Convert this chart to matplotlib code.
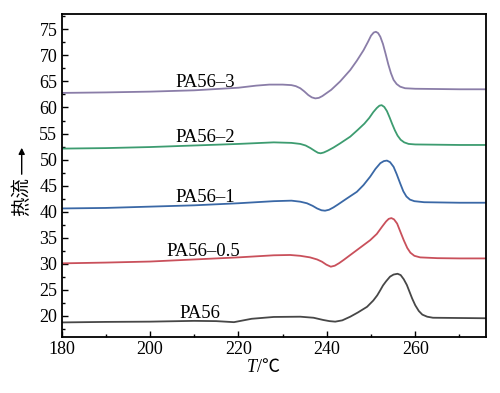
import matplotlib
matplotlib.use('Agg')
import matplotlib.pyplot as plt
from matplotlib.ticker import MultipleLocator

plt.rcParams['font.family'] = ['Liberation Serif', 'Noto Sans CJK SC', 'DejaVu Sans']

# 曲线数据 (温度 / 热流)
t_pa56 = [180, 190, 200, 210, 215, 219, 223, 228, 234, 237, 239.2, 240.6, 241.9, 243.5, 245.3,
          247, 249.1, 250.5, 251.4, 252.1, 252.7, 253.4, 254.3, 255.1, 256, 256.7, 257.4, 258.1,
          258.7, 259.3, 260.0, 260.8, 261.6, 262.7, 264, 270, 276]
v_pa56 = [18.7, 18.8, 18.85, 19.0, 18.95, 18.75, 19.4, 19.75, 19.8, 19.6, 19.17, 18.95, 18.85,
          19.1, 19.8, 20.6, 21.7, 22.9, 23.9, 24.9, 25.8, 26.6, 27.5, 27.9, 28.05, 27.8, 27.0,
          25.9, 24.6, 23.3, 22.0, 20.9, 20.2, 19.8, 19.6, 19.55, 19.5]

t_pa05 = [180, 190, 200, 210, 220, 228, 231.7, 234, 236.2, 237.8, 238.9, 239.9, 240.9, 241.8,
          242.8, 243.8, 246.8, 249.8, 251.3, 252.5, 253.4, 254.0, 254.6, 255.2, 255.9, 256.6,
          257.4, 258.2, 258.9, 259.8, 261.1, 265, 270, 276]
v_pa05 = [30.05, 30.2, 30.4, 30.8, 31.2, 31.6, 31.66, 31.5, 31.2, 30.8, 30.37, 29.8, 29.41, 29.6,
          30.1, 30.7, 32.6, 34.5, 35.7, 37.1, 38.1, 38.6, 38.75, 38.5, 37.7, 36.2, 34.5, 33.0,
          32.1, 31.5, 31.2, 31.05, 31.0, 31.0]

t_pa1 = [180, 190, 200, 210, 220, 228, 232, 234, 235.5, 236.8, 237.8, 238.8, 239.6, 240.5,
         241.5, 242.5, 244.5, 246.8, 248.3, 249.8, 251.0, 252.1, 252.9, 253.6, 254.3, 255.1,
         255.8, 256.6, 257.3, 258.0, 258.8, 259.8, 262, 266, 270, 276]
v_pa1 = [40.6, 40.7, 40.95, 41.2, 41.6, 42.0, 42.1, 41.9, 41.6, 41.1, 40.6, 40.25, 40.17, 40.35,
         40.8, 41.35, 42.5, 43.8, 45.1, 46.7, 48.2, 49.3, 49.7, 49.8, 49.5, 48.6, 47.2, 45.4,
         43.9, 42.9, 42.3, 42.0, 41.8, 41.75, 41.7, 41.7]

t_pa2 = [180, 190, 200, 210, 220, 228, 232, 234, 235.2, 236.3, 237.3, 238.0, 238.6, 239.3,
         240.2, 241.5, 243, 245.3, 247, 248.5, 249.6, 250.5, 251.3, 251.9, 252.4, 253.0, 253.6,
         254.2, 254.8, 255.4, 256.0, 256.7, 257.5, 258.5, 260, 265, 270, 276]
v_pa2 = [52.1, 52.2, 52.4, 52.7, 53.0, 53.3, 53.2, 53.0, 52.7, 52.2, 51.65, 51.3, 51.2, 51.35,
         51.7, 52.3, 53.1, 54.4, 55.7, 56.9, 58.0, 59.1, 59.9, 60.35, 60.45, 60.1, 59.3, 58.1,
         56.8, 55.6, 54.6, 53.8, 53.3, 53.0, 52.9, 52.85, 52.8, 52.8]

t_pa3 = [180, 190, 200, 210, 220, 224, 227, 230, 232, 233, 234, 234.9, 235.8, 236.6, 237.4,
         238.2, 239.0, 240, 241, 243, 245.3, 246.8, 248.3, 249.3, 250.0, 250.6, 251.1, 251.6,
         252.1, 252.7, 253.3, 253.9, 254.5, 255.1, 255.8, 256.6, 257.7, 260, 265, 270, 276]
v_pa3 = [62.8, 62.9, 63.05, 63.3, 63.8, 64.2, 64.4, 64.4, 64.3, 64.1, 63.7, 63.1, 62.4, 61.95,
         61.75, 61.85, 62.2, 62.8, 63.4, 65.0, 67.2, 69.0, 71.0, 72.6, 73.8, 74.4, 74.55, 74.3,
         73.6, 72.2, 70.3, 68.3, 66.6, 65.3, 64.5, 64.0, 63.7, 63.6, 63.55, 63.5, 63.5]

names = ['PA56', 'PA56–0.5', 'PA56–1', 'PA56–2', 'PA56–3']
label_t = [211.4, 212.0, 212.5, 212.5, 212.5]
label_v = [19.6, 31.4, 41.9, 53.4, 63.9]
colors = ['#474747', '#c9505b', '#3a68a6', '#3d9c70', '#8a7da8']

fig = plt.figure(figsize=(5.0, 3.93), dpi=100)
ax = fig.add_axes([0.123, 0.1425, 0.849, 0.821])

series = [(t_pa56, v_pa56), (t_pa05, v_pa05), (t_pa1, v_pa1), (t_pa2, v_pa2), (t_pa3, v_pa3)]
for (t, v), c in zip(series, colors):
    ax.plot(t, v, color=c, lw=1.3, solid_joinstyle='round')

for name, tx, vy in zip(names, label_t, label_v):
    ax.text(tx, vy, name, ha='center', va='baseline', fontsize=13.5)

ax.set_xlim(180, 276)
ax.set_ylim(15.9, 77.9)
ax.xaxis.set_major_locator(MultipleLocator(20))
ax.xaxis.set_minor_locator(MultipleLocator(10))
ax.yaxis.set_major_locator(MultipleLocator(5))
ax.yaxis.set_minor_locator(MultipleLocator(2.5))
ax.tick_params(which='both', direction='in', top=False, right=False, labelsize=13, width=1)
ax.tick_params(which='major', length=4, pad=3)
ax.tick_params(which='minor', length=2.5)
for s in ax.spines.values():
    s.set_linewidth(1.3)

# 坐标轴标题
fig.text(257 / 500, 1 - 367 / 393, 'T', ha='right', va='center', fontsize=13, style='italic')
fig.text(257 / 500, 1 - 367 / 393, '/℃', ha='left', va='center', fontsize=13,
         family=['Liberation Serif', 'Noto Sans CJK SC'])
fig.text(21.7 / 500, 1 - 197 / 393, '热流', rotation=90, ha='center', va='center',
         fontsize=14, family=['Noto Sans CJK SC', 'DejaVu Sans'])
ax.annotate('', xy=(21.7 / 500, 1 - 145 / 393), xytext=(21.7 / 500, 1 - 177 / 393),
            xycoords='figure fraction', textcoords='figure fraction',
            arrowprops=dict(arrowstyle='-|>', lw=1, color='black', mutation_scale=9))

fig.savefig('out.png', dpi=100)
